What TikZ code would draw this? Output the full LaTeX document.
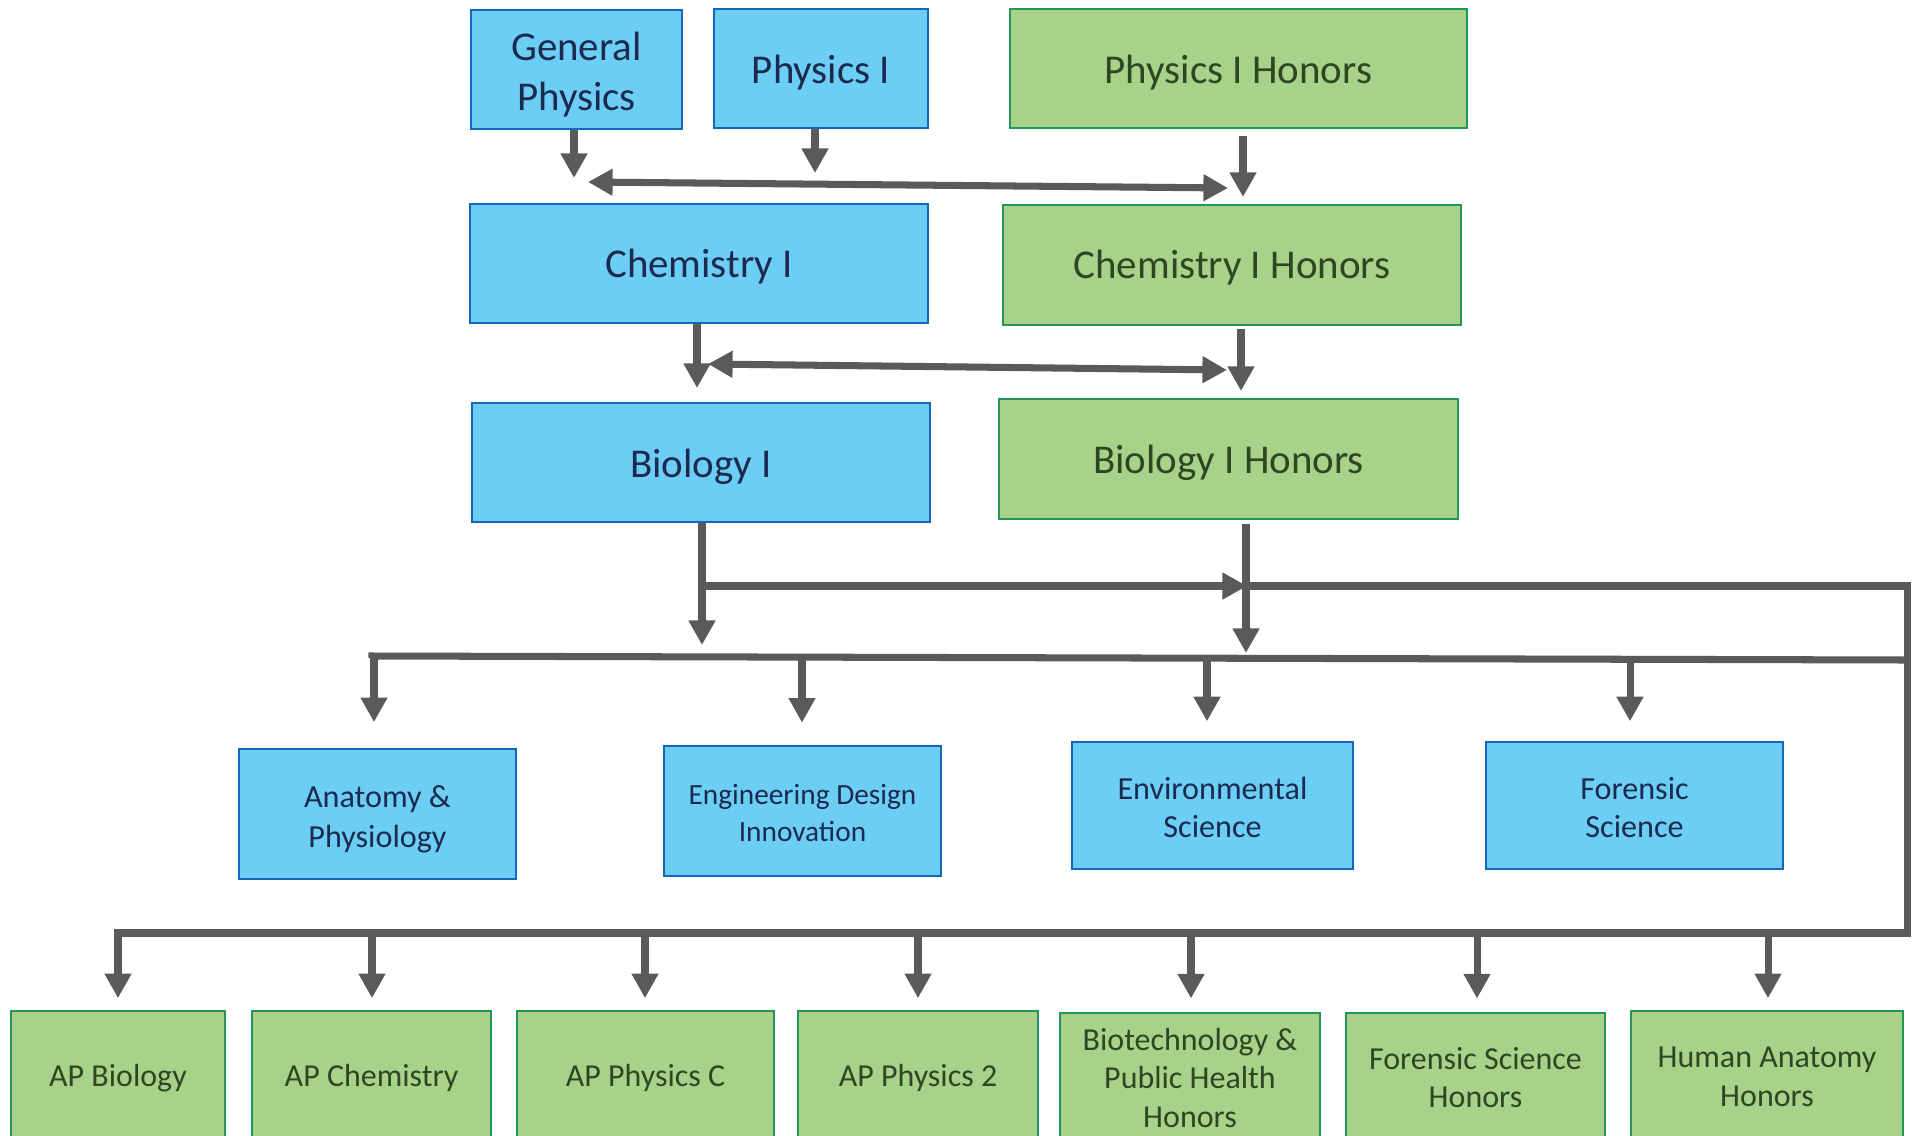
\documentclass[tikz,border=0pt]{standalone}
\usepackage{fontspec}
\setmainfont{Carlito}
\usetikzlibrary{arrows.meta}
\definecolor{bfill}{HTML}{6DCEF5}
\definecolor{bdraw}{HTML}{1467BA}
\definecolor{btext}{HTML}{1B2A4E}
\definecolor{gfill}{HTML}{A8D28A}
\definecolor{gdraw}{HTML}{23975A}
\definecolor{gtext}{HTML}{2C4721}
\definecolor{conn}{HTML}{5A5A5C}
\tikzset{
  box/.style={inner sep=0pt, line width=1.6pt, align=center},
  bluebox/.style={box, fill=bfill, draw=bdraw, text=btext},
  greenbox/.style={box, fill=gfill, draw=gdraw, text=gtext},
  bigtext/.style={font=\fontsize{23.3}{28}\selectfont},
  midtext/.style={font=\fontsize{18.3}{22.5}\selectfont},
  envtext/.style={font=\fontsize{18.3}{21.5}\selectfont},
  smalltext/.style={font=\fontsize{16.7}{21.5}\selectfont},
  lowtext/.style={font=\fontsize{18.2}{22}\selectfont},
  line/.style={draw=conn, line width=4pt},
  arr/.style={line, -{Triangle[width=14.5pt,length=14pt]}},
  darr/.style={line, {Triangle[width=14.5pt,length=14pt]}-{Triangle[width=14.5pt,length=14pt]}},
}
% name, style, x1, y1, x2, y2, text, downward text shift
\newcommand\cbox[8]{\node[#2, minimum width={(#5-#3)*0.02cm}, minimum height={(#6-#4)*0.02cm}] (#1) at ({(#3+#5)/2},{(#4+#6)/2}) {\raisebox{-#8}[\height][\depth]{\begin{tabular}{@{}c@{}}#7\end{tabular}}};}
\begin{document}
\begin{tikzpicture}[x=0.02cm,y=-0.02cm]
\useasboundingbox (0,0) rectangle (1914,1136);
\clip (0,0) rectangle (1914,1136);
\fill[white] (0,0) rectangle (1914,1136);

% top rows
\cbox{gp}{bluebox, bigtext}{471}{10}{682}{129}{General\\Physics}{3.5pt}
\cbox{p1}{bluebox, bigtext}{714}{9}{928}{128}{Physics I}{2.8pt}
\cbox{ph}{greenbox, bigtext}{1010}{9}{1467}{128}{Physics I Honors}{2.8pt}
\cbox{c1}{bluebox, bigtext}{470}{204}{928}{323}{Chemistry I}{2.1pt}
\cbox{ch}{greenbox, bigtext}{1003}{205}{1461}{325}{Chemistry I Honors}{2.1pt}
\cbox{b1}{bluebox, bigtext}{472}{403}{930}{522}{Biology I}{2.8pt}
\cbox{bh}{greenbox, bigtext}{999}{399}{1458}{519}{Biology I Honors}{2.8pt}

% middle row
\cbox{ana}{bluebox, midtext}{239}{749}{516}{879}{Anatomy \&\\Physiology}{3.1pt}
\cbox{eng}{bluebox, smalltext}{664}{746}{941}{876}{Engineering Design\\Innovation}{2.5pt}
\cbox{env}{bluebox, envtext}{1072}{742}{1353}{869}{Environmental\\Science}{3.1pt}
\cbox{for}{bluebox, envtext}{1486}{742}{1783}{869}{Forensic\\Science}{3.1pt}

% bottom row
\cbox{apb}{greenbox, lowtext}{11}{1011}{225}{1144}{AP Biology}{0.7pt}
\cbox{apc}{greenbox, lowtext}{252}{1011}{491}{1144}{AP Chemistry}{0.7pt}
\cbox{app}{greenbox, lowtext}{517}{1011}{774}{1144}{AP Physics C}{0.7pt}
\cbox{ap2}{greenbox, lowtext}{798}{1011}{1038}{1144}{AP Physics 2}{0.7pt}
\cbox{bio}{greenbox, lowtext}{1060}{1013}{1320}{1144}{Biotechnology \&\\Public Health\\Honors}{1.4pt}
\cbox{fsh}{greenbox, lowtext}{1346}{1013}{1605}{1144}{Forensic Science\\Honors}{1.2pt}
\cbox{hah}{greenbox, lowtext}{1631}{1011}{1903}{1144}{Human Anatomy\\Honors}{1pt}

% arrows level 1
\coordinate (t1) at (574,178);
\coordinate (t2) at (815,173);
\coordinate (t3) at (1243,197);
\draw[arr] (gp.south -| t1) -- (t1);
\draw[arr] (p1.south -| t2) -- (t2);
\draw[arr, shorten <=3.5pt] (ph.south -| t3) -- (t3);
\coordinate (d1l) at (588,182);
\coordinate (d1r) at (1228,188);
\draw[darr] (d1l) -- (d1r);

% arrows level 2
\coordinate (t4) at (697,388);
\coordinate (t5) at (1241,391);
\draw[arr] (c1.south -| t4) -- (t4);
\draw[arr, shorten <=1.5pt] (ch.south -| t5) -- (t5);
\coordinate (d2l) at (708,364);
\coordinate (d2r) at (1227,370);
\draw[darr] (d2l) -- (d2r);

% biology outputs
\coordinate (t6) at (702,645);
\coordinate (t7) at (1246,653);
\coordinate (jb) at (702,586);
\coordinate (jh) at (1247,586);
\coordinate (jr) at (1907,586);
\coordinate (jm) at (1907,660);
\coordinate (jl) at (372,656);
\coordinate (jbot) at (1907,933);
\coordinate (jbl) at (118,933);
\draw[arr] (b1.south -| t6) -- (t6);
\draw[arr, shorten <=2pt] (bh.south -| t7) -- (t7);
\draw[arr] (jb) -- (jh);
\draw[line, line join=miter] ([xshift=-1.5pt]jh) -- (jr) -- (jbot) -- (jbl) -- ([yshift=-1pt]jbl);
\draw[line, line join=miter] (jm) -- (jl) -- ([yshift=-1pt]jl);

% drops to middle row
\coordinate (m1) at (374,656);
\coordinate (m2) at (802,657);
\coordinate (m3) at (1207,658);
\coordinate (m4) at (1630,659);
\draw[arr, shorten >=14.5pt] (m1) -- (ana.north -| m1);
\draw[arr, shorten >=12.5pt] (m2) -- (eng.north -| m2);
\draw[arr, shorten >=11pt] (m3) -- (env.north -| m3);
\draw[arr, shorten >=11pt] (m4) -- (for.north -| m4);

% drops to bottom row
\coordinate (n1) at (118,933);
\coordinate (n2) at (372,933);
\coordinate (n3) at (645,933);
\coordinate (n4) at (918,933);
\coordinate (n5) at (1191,933);
\coordinate (n6) at (1477,933);
\coordinate (n7) at (1768,933);
\draw[arr, shorten >=6.5pt] (n1) -- (apb.north -| n1);
\draw[arr, shorten >=6.5pt] (n2) -- (apc.north -| n2);
\draw[arr, shorten >=6.5pt] (n3) -- (app.north -| n3);
\draw[arr, shorten >=6.5pt] (n4) -- (ap2.north -| n4);
\draw[arr, shorten >=7.5pt] (n5) -- (bio.north -| n5);
\draw[arr, shorten >=7.5pt] (n6) -- (fsh.north -| n6);
\draw[arr, shorten >=6.5pt] (n7) -- (hah.north -| n7);
\end{tikzpicture}
\end{document}
